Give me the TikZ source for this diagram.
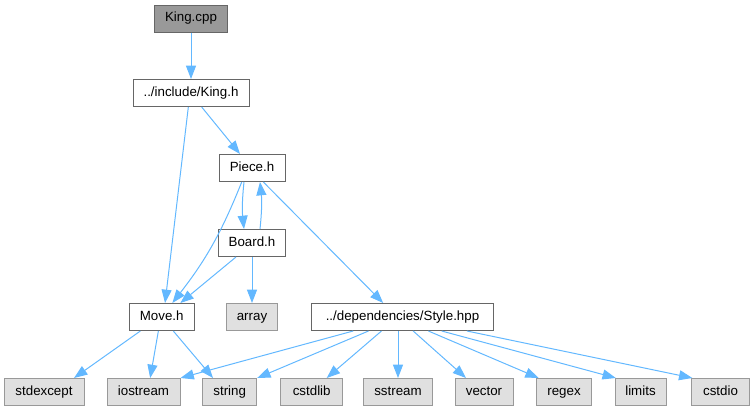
\documentclass[tikz,border=0pt]{standalone}
\usepackage{fontspec}
\setmainfont{Liberation Sans}
\usetikzlibrary{arrows.meta}
\definecolor{edgeblue}{HTML}{63B8FF}
\definecolor{boxline}{HTML}{666666}
\definecolor{sysline}{HTML}{999999}
\definecolor{sysfill}{HTML}{E0E0E0}
\begin{document}
\begin{tikzpicture}[x=0.75pt, y=-0.75pt,
	box/.style={draw=boxline, fill=white, line width=0.75pt, minimum height=20.25pt, inner sep=0pt, text height=7.2pt, text depth=2.1pt, font=\fontsize{10}{12}\selectfont},
	sysbox/.style={box, draw=sysline, fill=sysfill},
	mainbox/.style={box, fill=sysline},
	edge/.style={draw=edgeblue, line width=0.75pt, -{Triangle[length=10pt, width=7.5pt]}}]
	\useasboundingbox (0, 0) rectangle (754, 411);
	% Nodes:
	\node[mainbox, minimum width=55pt] (kingcpp) at (191, 18.5) {King.cpp};
	\node[box, minimum width=87pt] (kingh) at (191, 93) {../include/King.h};
	\node[box, minimum width=49.5pt] (piece) at (252, 168) {Piece.h};
	\node[box, minimum width=50pt] (board) at (252, 243) {Board.h};
	\node[box, minimum width=48.75pt] (move) at (161.7, 317) {Move.h};
	\node[sysbox, minimum width=38.25pt] (arr) at (252, 317) {array};
	\node[box, minimum width=136.5pt] (style) at (402.5, 317) {../dependencies/Style.hpp};
	\node[sysbox, minimum width=60pt] (stdexcept) at (44, 392) {stdexcept};
	\node[sysbox, minimum width=54.75pt] (iostream) at (143.5, 392) {iostream};
	\node[sysbox, minimum width=40.5pt] (str) at (229.7, 392) {string};
	\node[sysbox, minimum width=46.5pt] (cstdlib) at (311.7, 392) {cstdlib};
	\node[sysbox, minimum width=51.75pt] (sstream) at (398, 392) {sstream};
	\node[sysbox, minimum width=43.5pt] (vector) at (484, 392) {vector};
	\node[sysbox, minimum width=41.25pt] (regex) at (564, 392) {regex};
	\node[sysbox, minimum width=38.25pt] (limits) at (640.5, 392) {limits};
	\node[sysbox, minimum width=43.5pt] (cstdio) at (720.5, 392) {cstdio};
	% Edges:
	\draw[edge] (kingcpp) -- (kingh);
	\draw[edge] ([xshift=-2pt]kingh.south) -- ([xshift=2.5pt]move.north);
	\draw[edge] ([xshift=8pt]kingh.south) -- ([xshift=-9pt]piece.north);
	\draw[edge] ([xshift=-7.7pt]piece.south) to[bend left=8] ([xshift=8pt]move.north);
	\draw[edge] ([xshift=-6pt]piece.south) to[bend right=6] ([xshift=-6pt]board.north);
	\draw[edge] ([xshift=6pt]board.north) to[bend right=6] ([xshift=6pt]piece.south);
	\draw[edge] ([xshift=8.5pt]piece.south) -- ([xshift=-14.5pt]style.north);
	\draw[edge] ([xshift=-12pt]board.south) -- ([xshift=14pt]move.north);
	\draw[edge] (board) -- (arr);
	\draw[edge] ([xshift=-16pt]move.south) -- ([xshift=22.5pt]stdexcept.north);
	\draw[edge] ([xshift=-2.5pt]move.south) -- ([xshift=5pt]iostream.north);
	\draw[edge] ([xshift=8.7pt]move.south) -- ([xshift=-12.5pt]str.north);
	\draw[edge] ([xshift=-37pt]style.south) -- (iostream.north east);
	\draw[edge] ([xshift=-25.5pt]style.south) -- (str.north east);
	\draw[edge] ([xshift=-15.75pt]style.south) -- ([xshift=11.25pt]cstdlib.north);
	\draw[edge] (style.south -| sstream.north) -- (sstream.north);
	\draw[edge] ([xshift=8pt]style.south) -- ([xshift=-13.5pt]vector.north);
	\draw[edge] ([xshift=19.4pt]style.south) -- ([xshift=2pt]regex.north west);
	\draw[edge] ([xshift=29.4pt]style.south) -- ([xshift=1pt]limits.north west);
	\draw[edge] ([xshift=48.3pt]style.south) -- ([xshift=1pt]cstdio.north west);
\end{tikzpicture}
\end{document}
